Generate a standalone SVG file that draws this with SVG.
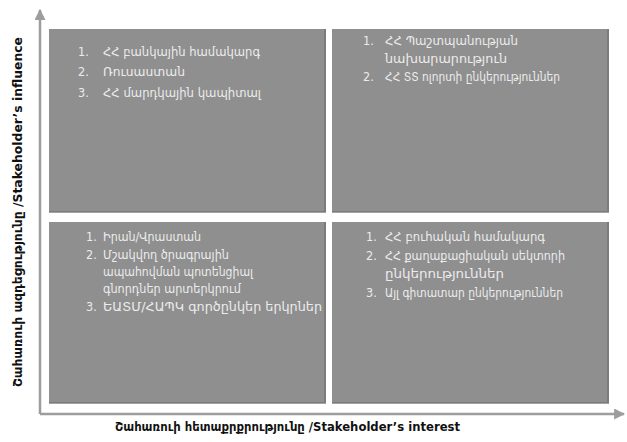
<svg xmlns="http://www.w3.org/2000/svg" width="627" height="442" viewBox="0 0 627 442">
<style>
.box{fill:#8f8f8f;}
.shr{fill:#7c7c7c;}
.shb{fill:#a3a3a3;}
.t{font-family:"DejaVu Sans Condensed","DejaVu Sans",sans-serif;font-size:12.5px;fill:#ececec;}
.ax{stroke:#9d9d9d;stroke-width:2.5;fill:none;}
.lab{font-family:"DejaVu Sans Condensed","DejaVu Sans",sans-serif;font-size:12.5px;font-weight:bold;fill:#111;}
</style>
<defs>
<marker id="ah" viewBox="0 0 10 10" refX="9" refY="5" markerWidth="4.4" markerHeight="4.4" orient="auto" markerUnits="strokeWidth">
<path d="M0,0 L10,5 L0,10 z" fill="#9d9d9d"/>
</marker>
</defs>
<g id="connectors">
<path class="ax" d="M40,414 L40,10" marker-end="url(#ah)"/>
<path class="ax" d="M40,414 L624,414" marker-end="url(#ah)"/>
</g>
<g id="axis-y-label">
<text class="lab" transform="translate(22,212) rotate(-90)" text-anchor="middle" textLength="350" lengthAdjust="spacingAndGlyphs">Շահառուի ազդեցությունը /Stakeholder’s influence</text>
</g>
<g id="axis-x-label">
<text class="lab" x="115" y="431" textLength="345" lengthAdjust="spacingAndGlyphs">Շահառուի հետաքրքրությունը /Stakeholder’s interest</text>
</g>
<g id="q-top-left">
<rect class="shb" x="49" y="30" width="277" height="183"/>
<rect class="shr" x="49" y="29" width="277" height="183"/>
<rect class="box" x="49" y="29" width="275" height="182"/>
<text class="t" x="78" y="56">1.</text><text class="t" x="103" y="56" textLength="157" lengthAdjust="spacingAndGlyphs">ՀՀ բանկային համակարգ</text>
<text class="t" x="78" y="76">2.</text><text class="t" x="103" y="76" textLength="82" lengthAdjust="spacingAndGlyphs">Ռուսաստան</text>
<text class="t" x="78" y="97">3.</text><text class="t" x="103" y="97" textLength="158" lengthAdjust="spacingAndGlyphs">ՀՀ մարդկային կապիտալ</text>
</g>
<g id="q-top-right">
<rect class="shb" x="332" y="30" width="277" height="183"/>
<rect class="shr" x="332" y="29" width="277" height="183"/>
<rect class="box" x="332" y="29" width="275" height="182"/>
<text class="t" x="363" y="45">1.</text><text class="t" x="385" y="45" textLength="133" lengthAdjust="spacingAndGlyphs">ՀՀ Պաշտպանության</text>
<text class="t" x="385" y="63" textLength="122" lengthAdjust="spacingAndGlyphs">նախարարություն</text>
<text class="t" x="363" y="81">2.</text><text class="t" x="385" y="81" textLength="175" lengthAdjust="spacingAndGlyphs">ՀՀ ՏՏ ոլորտի ընկերություններ</text>
</g>
<g id="q-bottom-left">
<rect class="shb" x="49" y="223" width="277" height="181"/>
<rect class="shr" x="49" y="222" width="277" height="181"/>
<rect class="box" x="49" y="222" width="275" height="180"/>
<text class="t" x="86" y="241">1.</text><text class="t" x="103" y="241" textLength="98" lengthAdjust="spacingAndGlyphs">Իրան/Վրաստան</text>
<text class="t" x="86" y="259">2.</text><text class="t" x="103" y="259" textLength="126" lengthAdjust="spacingAndGlyphs">Մշակվող ծրագրային</text>
<text class="t" x="103" y="276" textLength="150" lengthAdjust="spacingAndGlyphs">ապահովման պոտենցիալ</text>
<text class="t" x="103" y="293" textLength="138" lengthAdjust="spacingAndGlyphs">գնորդներ արտերկրում</text>
<text class="t" x="86" y="311">3.</text><text class="t" x="103" y="311" textLength="219" lengthAdjust="spacingAndGlyphs">ԵԱՏՄ/ՀԱՊԿ գործընկեր երկրներ</text>
</g>
<g id="q-bottom-right">
<rect class="shb" x="332" y="223" width="277" height="181"/>
<rect class="shr" x="332" y="222" width="277" height="181"/>
<rect class="box" x="332" y="222" width="275" height="180"/>
<text class="t" x="366" y="241">1.</text><text class="t" x="385" y="241" textLength="160" lengthAdjust="spacingAndGlyphs">ՀՀ բուհական համակարգ</text>
<text class="t" x="366" y="260">2.</text><text class="t" x="385" y="260" textLength="180" lengthAdjust="spacingAndGlyphs">ՀՀ քաղաքացիական սեկտորի</text>
<text class="t" x="385" y="278" textLength="119" lengthAdjust="spacingAndGlyphs">ընկերություններ</text>
<text class="t" x="366" y="297">3.</text><text class="t" x="385" y="297" textLength="178" lengthAdjust="spacingAndGlyphs">Այլ գիտատար ընկերություններ</text>
</g>
</svg>
